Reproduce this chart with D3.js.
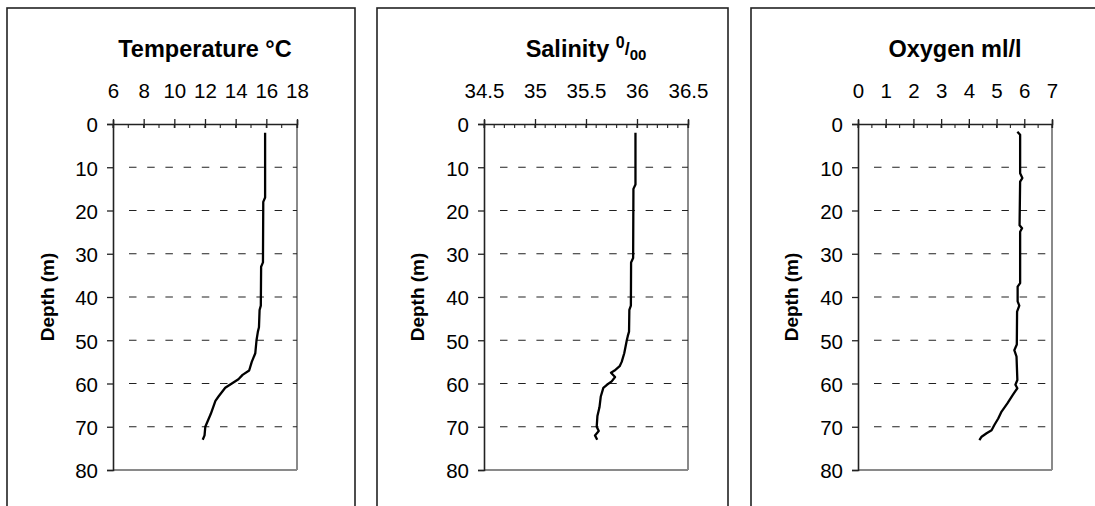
<!DOCTYPE html>
<html>
<head>
<meta charset="utf-8">
<script src="https://cdn.jsdelivr.net/npm/d3@7"></script>
<style>
  html, body { margin: 0; padding: 0; background: #fff; }
  svg { display: block; }
  text { font-family: Arial, "Liberation Sans", sans-serif; fill: #000; }
</style>
</head>
<body>
<svg id="chart" width="1095" height="506"></svg>
<script>
// ---- Data ----
const depthTicks = [0, 10, 20, 30, 40, 50, 60, 70, 80];

const tempTicks = [6, 8, 10, 12, 14, 16, 18];
const tempDepth  = [2, 17, 18, 32, 33, 42, 43, 47, 48, 50, 53, 55, 57, 58, 59, 60, 61, 63, 64, 67, 70, 72, 73];
const tempValues = [15.92, 15.92, 15.80, 15.78, 15.66, 15.64, 15.56, 15.52, 15.45, 15.36, 15.28, 15.05, 14.88, 14.45, 14.18, 13.75, 13.32, 12.88, 12.68, 12.38, 12.02, 11.97, 11.85];

const salTicks = [34.5, 35, 35.5, 36, 36.5];
const salDepth  = [2, 14, 15, 31, 32, 42, 43, 48, 49, 50, 53, 55, 56, 57, 57.5, 58.5, 59.5, 60.3, 61, 63, 65.5, 67.5, 70, 71, 72, 73];
const salValues = [35.985, 35.985, 35.965, 35.962, 35.942, 35.94, 35.925, 35.922, 35.91, 35.90, 35.875, 35.85, 35.83, 35.78, 35.745, 35.785, 35.752, 35.705, 35.67, 35.645, 35.632, 35.612, 35.605, 35.625, 35.588, 35.61];

const oxyTicks = [0, 1, 2, 3, 4, 5, 6, 7];
const oxyDepth  = [1.8, 2.5, 11.4, 12.5, 13.3, 23.4, 24.1, 24.9, 36.8, 37.6, 41, 42, 43.4, 51, 52.3, 53.8, 59.2, 60.3, 61.1, 62.7, 64.6, 66.5, 68.1, 69.6, 70.8, 71.5, 72.3, 73.1];
const oxyValues = [5.75, 5.85, 5.85, 5.93, 5.85, 5.83, 5.92, 5.85, 5.85, 5.76, 5.76, 5.82, 5.74, 5.73, 5.64, 5.72, 5.75, 5.68, 5.75, 5.58, 5.39, 5.18, 5.06, 4.92, 4.82, 4.64, 4.46, 4.38];

const tempMinor = d3.range(6, 18.001, 1);
const salMinor  = d3.range(34.5, 36.5001, 0.1);
const oxyMinor  = d3.range(0, 7.001, 0.5);

// ---- Layout ----
const svg = d3.select("#chart");
const plotTop = 124, plotBottom = 470;
const FONT = "Arial, 'Liberation Sans', sans-serif";

const panels = [
  { frame: [7, 355], x: [113, 297], ticks: tempTicks, minor: tempMinor, depth: tempDepth, values: tempValues, title: "temp" },
  { frame: [377, 728], x: [484, 688], ticks: salTicks, minor: salMinor, depth: salDepth, values: salValues, title: "sal" },
  { frame: [751, 1110], x: [858, 1052], ticks: oxyTicks, minor: oxyMinor, depth: oxyDepth, values: oxyValues, title: "oxy" }
];

panels.forEach(p => {
  const g = svg.append("g");
  g.append("rect")
    .attr("x", p.frame[0]).attr("y", 8)
    .attr("width", p.frame[1] - p.frame[0]).attr("height", 520)
    .attr("fill", "none").attr("stroke", "#222").attr("stroke-width", 1.6);

  const x = d3.scaleLinear().domain([p.ticks[0], p.ticks[p.ticks.length - 1]]).range(p.x);
  const y = d3.scaleLinear().domain([0, 80]).range([plotTop, plotBottom]);

  g.append("line").attr("x1", p.x[1]).attr("x2", p.x[1]).attr("y1", plotTop).attr("y2", plotBottom)
    .attr("stroke", "#8a8a8a").attr("stroke-width", 2);
  g.append("line").attr("x1", p.x[0]).attr("x2", p.x[1]).attr("y1", plotBottom).attr("y2", plotBottom)
    .attr("stroke", "#8a8a8a").attr("stroke-width", 2);

  g.append("g").selectAll("line")
    .data(depthTicks.filter(d => d > 0 && d < 80))
    .join("line")
    .attr("x1", p.x[0] + 16).attr("x2", p.x[1])
    .attr("y1", d => y(d)).attr("y2", d => y(d))
    .attr("stroke", "#222").attr("stroke-width", 1.2)
    .attr("stroke-dasharray", "7.5,10.7");

  const ya = g.append("g").attr("transform", `translate(${p.x[0]},0)`)
    .call(d3.axisLeft(y).tickValues(depthTicks).tickSize(6).tickPadding(9).tickFormat(d => d));
  ya.select(".domain").attr("stroke", "#222").attr("stroke-width", 1.6);
  ya.selectAll(".tick line").attr("stroke", "#222").attr("stroke-width", 1.3);
  ya.selectAll(".tick text").attr("font-size", 20.5).attr("font-family", FONT)
    .attr("fill", "#000").attr("dy", "0.38em");

  g.append("g").selectAll("line").data(p.minor).join("line")
    .attr("x1", d => x(d)).attr("x2", d => x(d))
    .attr("y1", plotTop).attr("y2", plotTop + 4)
    .attr("stroke", "#333").attr("stroke-width", 1.2);

  const xa = g.append("g").attr("transform", `translate(0,${plotTop})`)
    .call(d3.axisTop(x).tickValues(p.ticks).tickSize(4).tickPadding(22).tickFormat(d => String(d)));
  xa.select(".domain").attr("stroke", "#222").attr("stroke-width", 1.6);
  xa.selectAll(".tick line").attr("stroke", "#222").attr("stroke-width", 1.3).attr("y2", 4).attr("y1", -5);
  xa.selectAll(".tick text").attr("font-size", 20.5).attr("font-family", FONT)
    .attr("fill", "#000").attr("dy", "0");

  const pts = p.depth.map((d, i) => [p.values[i], d]);
  g.append("path").datum(pts)
    .attr("fill", "none").attr("stroke", "#000").attr("stroke-width", 2.3)
    .attr("stroke-linejoin", "round")
    .attr("d", d3.line().x(d => x(d[0])).y(d => y(d[1])));

  const cx = p.frame[0] + 40, cy = (plotTop + plotBottom) / 2;
  g.append("text").attr("transform", `translate(${cx},${cy}) rotate(-90)`)
    .attr("text-anchor", "middle").attr("dy", "0.36em")
    .attr("font-size", 19).attr("font-weight", "bold").text("Depth (m)");

  const tx = (p.x[0] + p.x[1]) / 2;
  const t = g.append("text").attr("x", tx).attr("y", 57).attr("text-anchor", "middle")
    .attr("font-size", 23.5).attr("font-weight", "bold");
  if (p.title === "temp") {
    t.text("Temperature °C");
  } else if (p.title === "sal") {
    t.append("tspan").text("Salinity ");
    t.append("tspan").attr("font-size", 16).attr("dy", -9).text("0");
    t.append("tspan").attr("font-size", 18).attr("dy", 7).text("/");
    t.append("tspan").attr("font-size", 15).attr("dy", 5).text("00");
  } else {
    t.text("Oxygen ml/l");
  }
});
</script>
</body>
</html>
